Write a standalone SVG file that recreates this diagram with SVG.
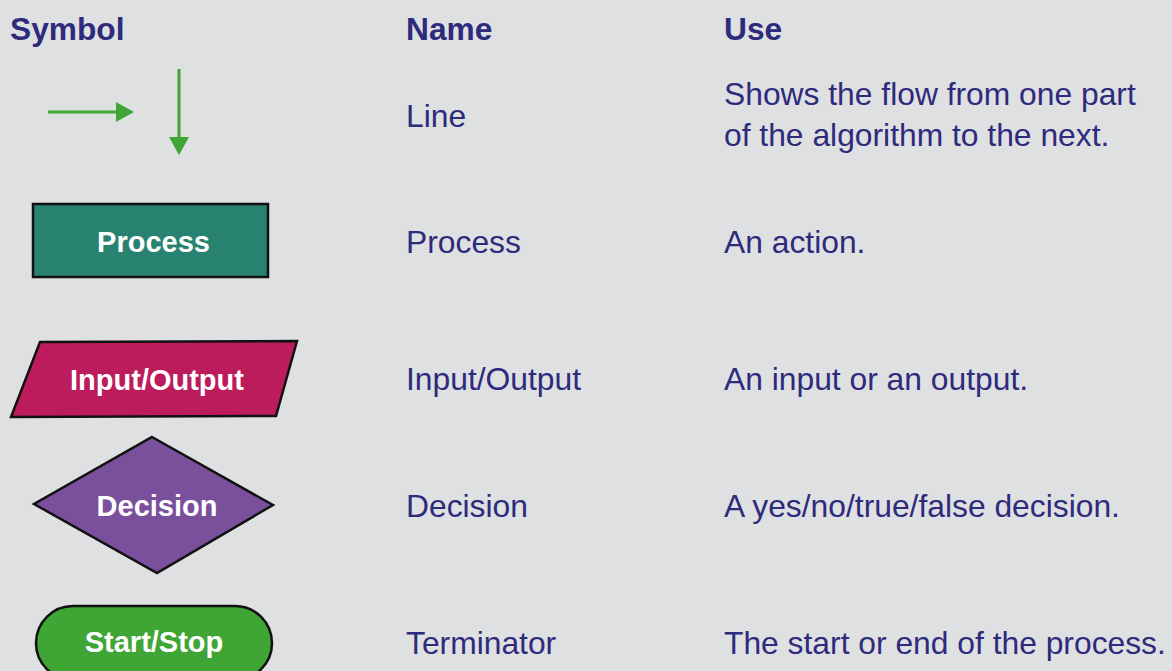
<svg xmlns="http://www.w3.org/2000/svg" width="1172" height="671" viewBox="0 0 1172 671">
<style>
.hd{font-family:"Liberation Sans",Arial,sans-serif;font-weight:bold;font-size:31.7px;fill:#2e2a7c}
.bd{font-family:"Liberation Sans",Arial,sans-serif;font-size:31.8px;fill:#2e2a7c}
.lb{font-family:"Liberation Sans",Arial,sans-serif;font-weight:bold;font-size:29px;fill:#ffffff;text-anchor:middle}
.sh{stroke:#111111;stroke-width:2.5}
.ln{stroke:#3fa535;stroke-width:3;fill:none}
</style>
<rect width="1172" height="671" fill="#dfe0e2"/>
<g id="headers">
<text class="hd" x="10" y="40">Symbol</text>
<text class="hd" x="406" y="40">Name</text>
<text class="hd" x="724" y="40">Use</text>
</g>
<g id="connectors">
<line class="ln" x1="48" y1="112" x2="117" y2="112"/>
<polygon points="116,102 134,112 116,122" fill="#3fa535"/>
<line class="ln" x1="179" y1="69" x2="179" y2="138"/>
<polygon points="169,137 189,137 179,155" fill="#3fa535"/>
</g>
<g id="row-line">
<text class="bd" x="406" y="127">Line</text>
<text class="bd" x="724" y="105">Shows the flow from one part</text>
<text class="bd" x="724" y="146">of the algorithm to the next.</text>
</g>
<g id="process">
<rect class="sh" x="33" y="204" width="235" height="73" fill="#27836f"/>
<text class="lb" x="153.5" y="252">Process</text>
</g>
<g id="row-process">
<text class="bd" x="406" y="253">Process</text>
<text class="bd" x="724" y="253">An action.</text>
</g>
<g id="input-output">
<polygon class="sh" points="40,342 297,341 276,416 11,417" fill="#bc1c5b"/>
<text class="lb" x="157" y="390">Input/Output</text>
</g>
<g id="row-io">
<text class="bd" x="406" y="390">Input/Output</text>
<text class="bd" x="724" y="390">An input or an output.</text>
</g>
<g id="decision">
<polygon class="sh" points="152,437 273,505 157,573 34,504" fill="#7a4f9c"/>
<text class="lb" x="157" y="516">Decision</text>
</g>
<g id="row-decision">
<text class="bd" x="406" y="517">Decision</text>
<text class="bd" x="724" y="517">A yes/no/true/false decision.</text>
</g>
<g id="terminator">
<rect class="sh" x="36" y="606" width="236" height="74" rx="37" ry="37" fill="#3fa535"/>
<text class="lb" x="154" y="652">Start/Stop</text>
</g>
<g id="row-terminator">
<text class="bd" x="406" y="654">Terminator</text>
<text class="bd" x="724" y="654">The start or end of the process.</text>
</g>
</svg>
